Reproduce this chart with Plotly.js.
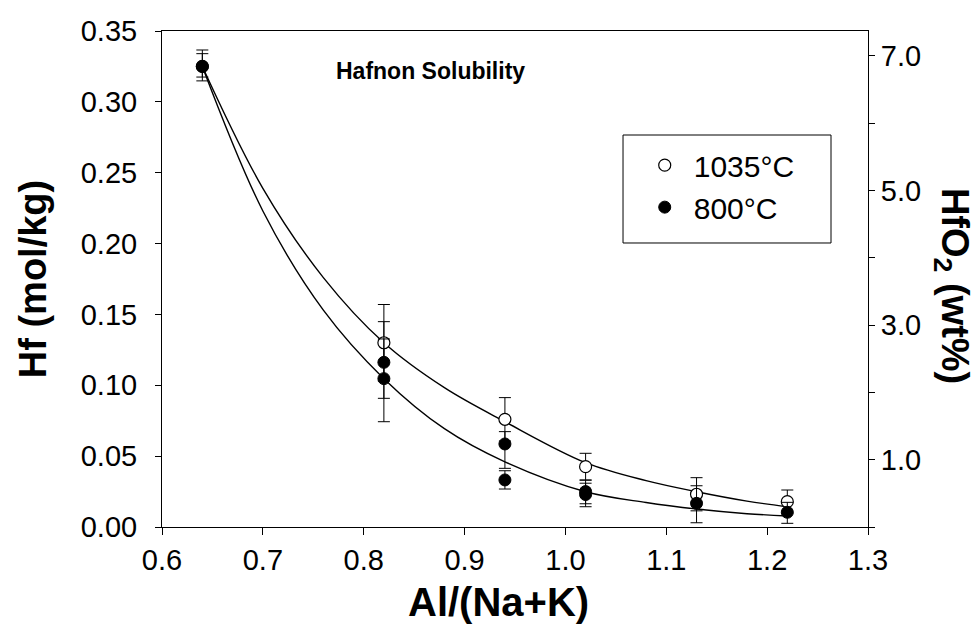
<!DOCTYPE html>
<html>
<head>
<meta charset="utf-8">
<script src="https://cdn.plot.ly/plotly-3.0.1.min.js"></script>
<style>html,body{margin:0;padding:0;background:#fff;}#chart{width:975px;height:630px;}</style>
</head>
<body>
<div id="chart"></div>
<script>
// ---- data ----
const xHot = [0.64, 0.82, 0.94, 1.02, 1.13, 1.22];
const yHot = [0.325, 0.130, 0.076, 0.0426, 0.0231, 0.0179];
const errHotUp = [0.0116, 0.027, 0.0153, 0.0094, 0.0117, 0.0082];
const errHotDown = [0.0075, 0.027, 0.0153, 0.0094, 0.0117, 0.0082];

const xCold = [0.64, 0.82, 0.82, 0.94, 0.94, 1.02, 1.02, 1.13, 1.22];
const yCold = [0.325, 0.1162, 0.1047, 0.0586, 0.0332, 0.0250, 0.0229, 0.0167, 0.0104];
const errColdUp = [0.009, 0.0287, 0.028, 0.0087, 0.0065, 0.008, 0.008, 0.0124, 0.007];
const errColdDown = [0.0102, 0.0254, 0.0304, 0.0172, 0.0064, 0.0086, 0.0086, 0.0137, 0.0078];

// fitted curves as drawn in the reference
const xCurve = [0.64, 0.70, 0.76, 0.82, 0.88, 0.94, 1.02, 1.08, 1.13, 1.18, 1.22];
const yCurveHot = [0.325, 0.239, 0.176, 0.130, 0.0983, 0.0743, 0.0454, 0.0327, 0.0249, 0.0183, 0.0143];
const yCurveCold = [0.325, 0.223, 0.153, 0.1047, 0.0694, 0.046, 0.0249, 0.0173, 0.0127, 0.0094, 0.0078];

const legendHot = '1035\u00B0C';
const legendCold = '800\u00B0C';
const xTicks = [0.6, 0.7, 0.8, 0.9, 1.0, 1.1, 1.2, 1.3];
const xTickText = ['0.6', '0.7', '0.8', '0.9', '1.0', '1.1', '1.2', '1.3'];
const yTicks = [0, 0.05, 0.10, 0.15, 0.20, 0.25, 0.30, 0.35];
const yTickText = ['0.00', '0.05', '0.10', '0.15', '0.20', '0.25', '0.30', '0.35'];
const y2Ticks = [1, 3, 5, 7];
const y2TickText = ['1.0', '3.0', '5.0', '7.0'];
const y2MinorTicks = [0, 2, 4, 6];
const wtPerMol = 21.049; // HfO2 wt% per mol/kg Hf

const FONT = 'Liberation Sans, Arial, sans-serif';

const traces = [
  {x: xCurve, y: yCurveHot, mode: 'lines', line: {color: '#000', width: 1.4, shape: 'spline'}, showlegend: false, hoverinfo: 'skip'},
  {x: xCurve, y: yCurveCold, mode: 'lines', line: {color: '#000', width: 1.4, shape: 'spline'}, showlegend: false, hoverinfo: 'skip'},
  {x: xHot, y: yHot, mode: 'markers', name: legendHot,
   marker: {symbol: 'circle', size: 12, color: '#fff', line: {color: '#000', width: 1.2}},
   error_y: {type: 'data', symmetric: false, array: errHotUp, arrayminus: errHotDown, color: '#000', thickness: 1, width: 6}},
  {x: xCold, y: yCold, mode: 'markers', name: legendCold,
   marker: {symbol: 'circle', size: 12, color: '#000', line: {color: '#000', width: 1}},
   error_y: {type: 'data', symmetric: false, array: errColdUp, arrayminus: errColdDown, color: '#000', thickness: 1, width: 6}},
  {x: [0.6], y: [0], yaxis: 'y2', mode: 'markers', marker: {opacity: 0}, showlegend: false, hoverinfo: 'skip'}
];

const layout = {
  width: 975, height: 630,
  margin: {l: 162, r: 107, t: 31, b: 103},
  paper_bgcolor: '#fff', plot_bgcolor: '#fff',
  font: {family: FONT, color: '#000', size: 29},
  showlegend: true,
  legend: {x: 0.671, y: 0.782, xanchor: 'left', yanchor: 'top',
           borderwidth: 0, bgcolor: 'rgba(0,0,0,0)', itemwidth: 48,
           font: {family: FONT, size: 30, color: '#000'}},
  shapes: [
    {type: 'rect', xref: 'paper', yref: 'paper', x0: 0.653, x1: 0.9476, y0: 0.5726, y1: 0.7903,
     line: {color: '#000', width: 1}, fillcolor: 'rgba(0,0,0,0)', layer: 'above'}
  ],
  xaxis: {range: [0.6, 1.3], tickvals: xTicks, ticktext: xTickText,
          showline: true, linecolor: '#000', linewidth: 1, mirror: true,
          ticks: 'outside', ticklen: 7, tickcolor: '#000', showgrid: false, zeroline: false,
          tickfont: {family: FONT, size: 29}},
  yaxis: {range: [0, 0.35], tickvals: yTicks, ticktext: yTickText,
          showline: true, linecolor: '#000', linewidth: 1,
          ticks: 'outside', ticklen: 6, tickcolor: '#000', showgrid: false, zeroline: false,
          ticklabelstandoff: 12,
          tickfont: {family: FONT, size: 29},
          title: {text: '<b>Hf (mol/kg)</b>', font: {family: FONT, size: 38}, standoff: 22}},
  yaxis2: {overlaying: 'y', side: 'right', range: [0, 0.35 * wtPerMol],
           tickmode: 'array', tickvals: y2Ticks, ticktext: y2TickText,
           minor: {tickmode: 'array', tickvals: y2MinorTicks, ticks: 'outside', ticklen: 6, tickcolor: '#000', showgrid: false},
           showline: true, linecolor: '#000', linewidth: 1,
           ticks: 'outside', ticklen: 6, tickcolor: '#000', showgrid: false, zeroline: false,
           tickfont: {family: FONT, size: 29}},
  annotations: [
    {text: '<b>Hafnon Solubility</b>', xref: 'paper', yref: 'paper', x: 0.381, y: 0.92,
     xanchor: 'center', yanchor: 'middle', showarrow: false, font: {family: FONT, size: 23}},
    {text: '<b>Al/(Na+K)</b>', xref: 'paper', yref: 'paper', x: 0.476, y: -0.152,
     xanchor: 'center', yanchor: 'middle', showarrow: false, font: {family: FONT, size: 40}},
    {text: '<b>HfO<sub>2</sub> (wt%)</b>', xref: 'paper', yref: 'paper', x: 1.119, y: 0.486,
     xanchor: 'center', yanchor: 'middle', textangle: 90, showarrow: false, font: {family: FONT, size: 38}}
  ]
};

Plotly.newPlot('chart', traces, layout, {staticPlot: true, displayModeBar: false});
</script>
</body>
</html>
